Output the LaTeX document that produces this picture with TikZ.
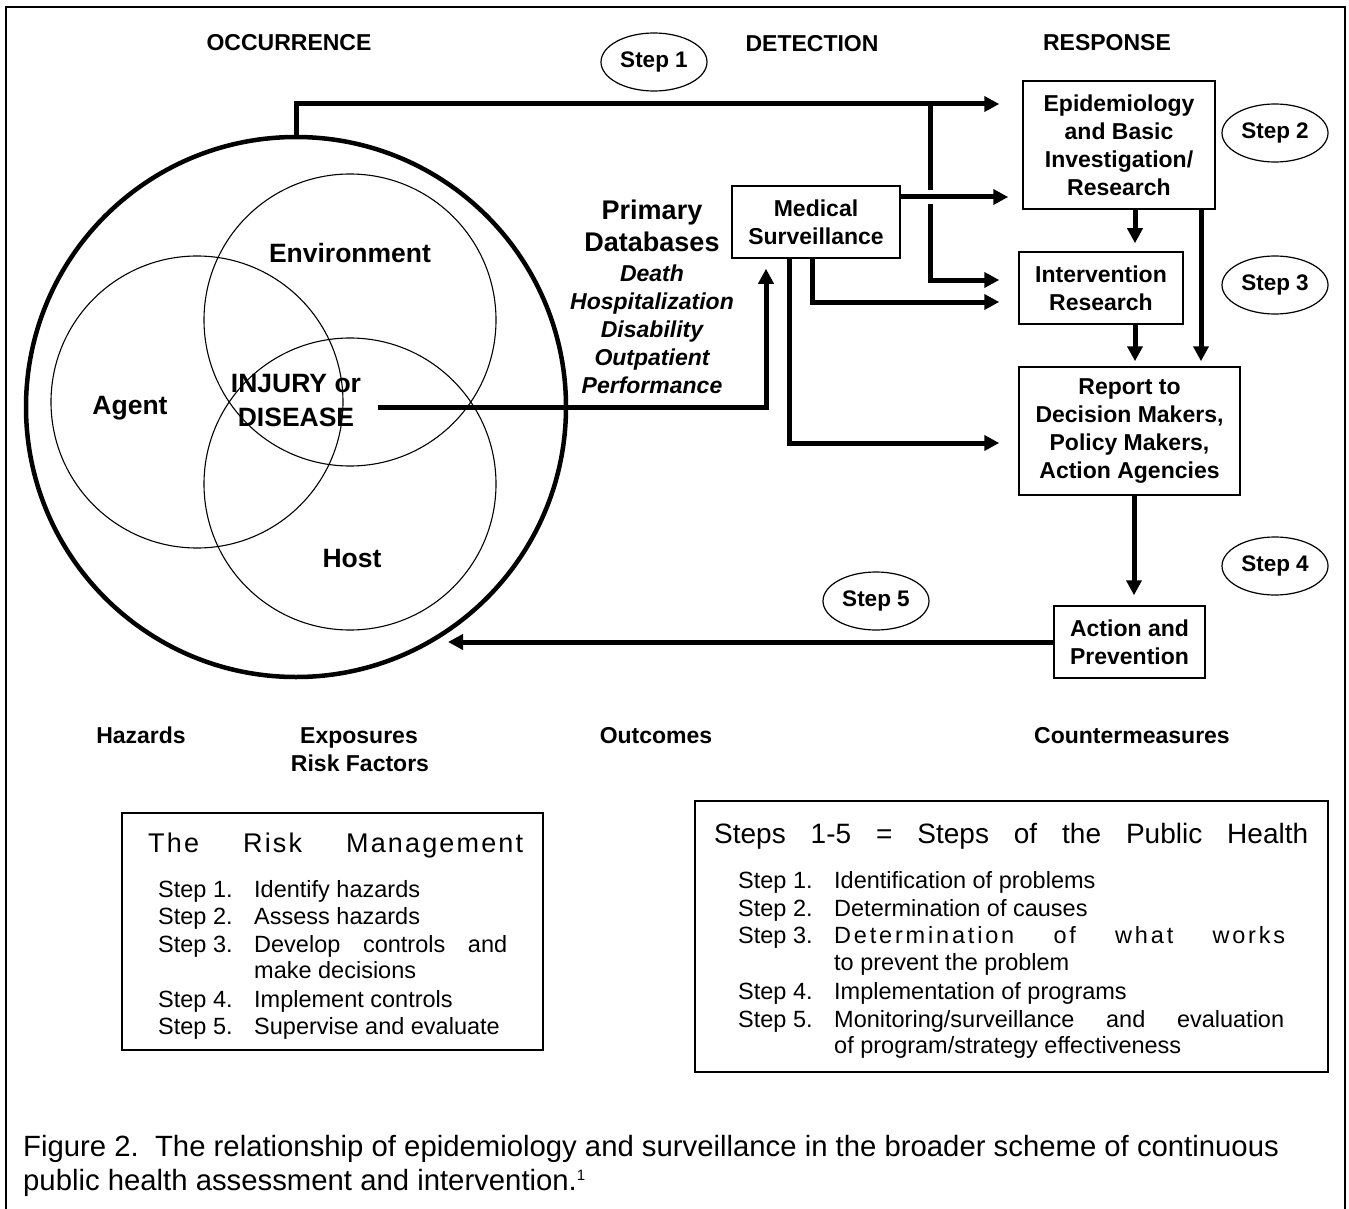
\documentclass[tikz,border=0pt]{standalone}
\usepackage{fontspec}
\setmainfont{Liberation Sans}
\newfontfamily\spacedA[LetterSpace=8]{Liberation Sans}
\newfontfamily\spacedB[LetterSpace=12]{Liberation Sans}
\usetikzlibrary{arrows.meta,shapes.geometric}
\newcommand\fntB{\fontsize{23}{28}\selectfont\bfseries}
\newcommand\fntC{\fontsize{26.5}{34}\selectfont\bfseries}
\newcommand\fntP{\fontsize{27}{32}\selectfont\bfseries}
\newcommand\fntI{\fontsize{23}{28}\selectfont\bfseries\itshape}
\newcommand\fntR{\fontsize{23.5}{27.5}\selectfont}
\newcommand\fntS{\fontsize{22.5}{27}\selectfont\bfseries}
\newcommand\fntT{\spacedA\fontsize{27}{32}\selectfont}
\newcommand\fntH{\fontsize{28}{33}\selectfont}
\newcommand\fntCap{\fontsize{29.3}{33}\selectfont}
\begin{document}
\begin{tikzpicture}[x=1pt,y=-1pt,
  conn/.style={line width=5pt},
  arr/.style={line width=5pt,-{Triangle[length=15pt,width=15pt]}},
  boxn/.style={draw,line width=1.5pt,align=center,inner sep=0pt,font=\fntB},
  stepell/.style={ellipse,draw,line width=1.2pt,minimum width=106pt,minimum height=58pt,inner sep=0pt,font=\fntS},
  venn/.style={circle,draw,line width=1.1pt,minimum size=292pt,inner sep=0pt},
  lbl/.style={inner sep=0pt,font=\fntB,anchor=base},
  clbl/.style={inner sep=0pt,font=\fntC,anchor=base},
  item/.style={inner sep=0pt,font=\fntR,anchor=base west},
  listbox/.style={draw,line width=1.3pt,inner sep=0pt},
]
\useasboundingbox (0,0) rectangle (1349,1209);
\draw[line width=1.5pt] (6,1215) -- (6,7) -- (1345,7) -- (1345,1215);

% Venn diagram
\node[venn] (env) at (350,320) {};
\node[venn] (agent) at (197,402) {};
\node[venn] (host) at (350,484) {};
\node[circle,draw,line width=4.5pt,minimum size=540pt,inner sep=0pt] (big) at (296,407) {};
\node[clbl] (lenv) at (350,262.5) {Environment};
\node[clbl] (lagent) at (130,414.5) {Agent};
\node[clbl] (lhost) at (352,567) {Host};
\node[font=\fntC,align=center,inner sep=0pt] (injury) at (296,401) {INJURY or\\DISEASE};

% headers
\node[lbl] (occ) at (289,51) {OCCURRENCE};
\node[lbl] (det) at (812,52) {DETECTION};
\node[lbl] (resp) at (1107,51) {RESPONSE};

% step ellipses
\node[stepell] (s1) at (654,62) {Step 1};
\node[stepell] (s2) at (1275,133) {Step 2};
\node[stepell] (s3) at (1275,285) {Step 3};
\node[stepell] (s4) at (1275,566) {Step 4};
\node[stepell] (s5) at (876,601) {Step 5};

% boxes
\node[boxn,minimum width=168pt,minimum height=72pt] (med) at (816,222) {Medical\\Surveillance};
\node[boxn,minimum width=192pt,minimum height=128pt] (epi) at (1119,145) {Epidemiology\\and Basic\\Investigation/\\Research};
\node[boxn,minimum width=164pt,minimum height=72pt] (interv) at (1101,288) {Intervention\\Research};
\node[boxn,minimum width=221pt,minimum height=128pt] (report) at (1129.5,431) {Report to\\Decision Makers,\\Policy Makers,\\Action Agencies};
\node[boxn,minimum width=151pt,minimum height=72pt] (action) at (1129.5,642) {Action and\\Prevention};

% primary databases
\node[font=\fntP,align=center,inner sep=0pt] (pd) at (652,226) {Primary\\Databases};
\node[font=\fntI,align=center,inner sep=0pt] (pdl) at (652,329) {Death\\Hospitalization\\Disability\\Outpatient\\Performance};

% helper coordinates
\coordinate (topy) at (0,104);
\coordinate (gapA) at (930,190);
\coordinate (gapB) at (930,204);
\coordinate (vx) at (930,0);
\coordinate (my) at (0,197);
\coordinate (ly) at (0,280);
\coordinate (m1x) at (812,0);
\coordinate (m1y) at (0,302);
\coordinate (m2x) at (789,0);
\coordinate (m2y) at (0,443);
\coordinate (injx) at (766,0);
\coordinate (injy) at (0,407);
\coordinate (ax) at (1135,0);
\coordinate (bx) at (1201,0);
\coordinate (cx) at (1134,0);
\coordinate (ret) at (448,642);

% connectors
\draw[arr,shorten >=23pt] (big.north) |- (epi.west |- topy);
\draw[conn] (vx |- topy) -- (gapA);
\draw[arr,shorten >=19pt] (gapB) |- (interv.west |- ly);
\draw[arr,shorten >=14pt] (med.east |- my) -- (epi.west |- my);
\draw[arr,shorten >=19pt] (med.south -| m1x) |- (interv.west |- m1y);
\draw[arr,shorten >=19pt] (med.south -| m2x) |- (report.west |- m2y);
\draw[arr,shorten >=10pt] ([xshift=17pt]injury.east |- injy) -| (med.south -| injx);
\draw[arr,shorten >=8pt] (epi.south -| ax) -- (interv.north -| ax);
\draw[arr,shorten >=5pt] (epi.south -| bx) -- (report.north -| bx);
\draw[arr,shorten >=5pt] (interv.south -| ax) -- (report.north -| ax);
\draw[arr,shorten >=10pt] (report.south -| cx) -- (action.north -| cx);
\draw[arr] (action.west) -- (ret);

% bottom labels
\node[lbl] (haz) at (141,743) {Hazards};
\node[lbl] (expo) at (359,743) {Exposures};
\node[lbl] (riskf) at (360,771) {Risk Factors};
\node[lbl] (outc) at (656,743) {Outcomes};
\node[lbl] (counter) at (1132,743) {Countermeasures};

% risk management box
\node[listbox,minimum width=421pt,minimum height=237pt] (rmbox) at (332.5,931.5) {};
\node[anchor=base west,inner sep=0pt,font=\fntT] (rmt) at (148,852) {\makebox[375pt][s]{The Risk Management}};
\node[item] (r1s) at (158,897) {Step 1.};
\node[item] (r1t) at (254,897) {Identify hazards};
\node[item] (r2s) at (158,924) {Step 2.};
\node[item] (r2t) at (254,924) {Assess hazards};
\node[item] (r3s) at (158,952) {Step 3.};
\node[item] (r3t) at (254,952) {\makebox[253pt][s]{Develop controls and}};
\node[item] (r3u) at (254,978) {make decisions};
\node[item] (r4s) at (158,1007) {Step 4.};
\node[item] (r4t) at (254,1007) {Implement controls};
\node[item] (r5s) at (158,1034) {Step 5.};
\node[item] (r5t) at (254,1034) {Supervise and evaluate};

% public health box
\node[listbox,minimum width=633pt,minimum height=271pt] (phbox) at (1011.5,936.5) {};
\node[anchor=base west,inner sep=0pt,font=\fntH] (pht) at (714,843) {\makebox[594pt][s]{Steps 1-5 = Steps of the Public Health}};
\node[item] (p1s) at (738,888) {Step 1.};
\node[item] (p1t) at (834,888) {Identification of problems};
\node[item] (p2s) at (738,916) {Step 2.};
\node[item] (p2t) at (834,916) {Determination of causes};
\node[item] (p3s) at (738,943) {Step 3.};
\node[item] (p3t) at (834,943) {\makebox[451pt][s]{\spacedB Determination of what works}};
\node[item] (p3u) at (834,970) {to prevent the problem};
\node[item] (p4s) at (738,999) {Step 4.};
\node[item] (p4t) at (834,999) {Implementation of programs};
\node[item] (p5s) at (738,1027) {Step 5.};
\node[item] (p5t) at (834,1027) {\makebox[450pt][s]{Monitoring/surveillance and evaluation}};
\node[item] (p5u) at (834,1053) {of program/strategy effectiveness};

% caption
\node[anchor=base west,inner sep=0pt,font=\fntCap] (cap1) at (23,1156) {Figure 2.\ \ The relationship of epidemiology and surveillance in the broader scheme of continuous};
\node[anchor=base west,inner sep=0pt,font=\fntCap] (cap2) at (23,1190) {public health assessment and intervention.{\fontsize{15}{15}\selectfont\raisebox{10pt}{1}}};
\end{tikzpicture}
\end{document}
